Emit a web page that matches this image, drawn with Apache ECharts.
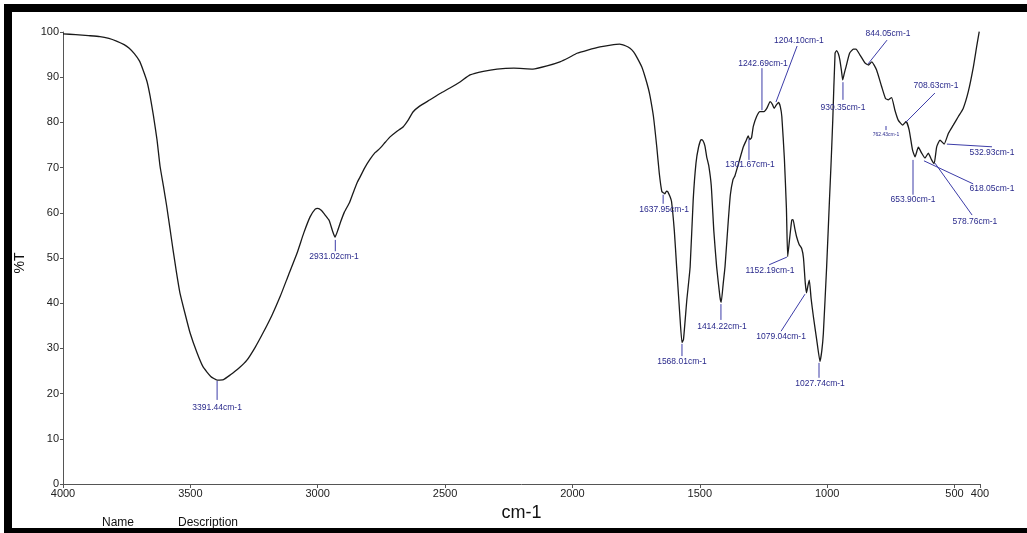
<!DOCTYPE html>
<html><head><meta charset="utf-8">
<script src="https://cdn.jsdelivr.net/npm/echarts@6/dist/echarts.min.js"></script>
<style>html,body{margin:0;padding:0;background:#fff}#c{width:1027px;height:533px}</style>
</head><body><div id="c"></div>
<script>
// ---- spectrum data (wavenumber cm-1, %T) ----
const wavenumbers = [
4000,3950,3900,3855,3820,3790,3760,3740,3720,3700,3685,3670,3658,3645,3631,3619,3606,3593,3580,3568,
3555,3541,3520,3501,3475,3450,3420,3395,3370,3344,3310,3278,3245,3215,3180,3148,3115,3081,3055,3030,
3010,3000,2985,2971,2955,2942,2932,2922,2910,2895,2875,2861,2845,2834,2815,2795,2775,2755,2735,2716,
2690,2665,2645,2626,2600,2559,2520,2481,2440,2402,2350,2296,2230,2155,2100,2049,2015,1982,1940,1892,
1850,1815,1790,1774,1760,1748,1728,1715,1702,1695,1682,1669,1659,1649,1642,1637,1631,1626,1617,1611,
1600,1591,1578,1570,1564,1551,1538,1526,1515,1505,1495,1488,1480,1473,1465,1455,1445,1434,1421,1416,
1408,1401,1388,1380,1370,1362,1345,1329,1318,1310,1304,1297,1290,1277,1264,1248,1237,1224,1215,1208,
1200,1191,1184,1178,1168,1160,1155,1147,1139,1134,1127,1120,1110,1100,1093,1086,1081,1075,1070,1063,
1054,1041,1028,1021,1015,1002,991,985,978,969,963,956,950,944,939,933,926,912,897,887,
871,851,838,825,806,786,771,760,747,734,721,704,690,678,665,655,642,629,616,603,
590,580,570,557,541,524,505,485,466,446,426,413,403
];
const transmittance = [
99.6,99.4,99.2,99.0,98.6,98.0,97.2,96.4,95.2,93.6,91.5,89.0,85.8,81.5,76.2,70.3,66.0,61.5,56.5,51.8,
47.0,42.3,37.5,33.4,29.2,25.9,23.8,23.0,23.1,24.1,25.6,27.4,30.3,33.4,37.3,41.4,46.2,51.1,55.5,59.1,
60.8,61.0,60.5,59.5,58.3,56.0,54.6,56.0,58.0,60.2,62.3,64.4,66.7,67.9,70.0,71.8,73.3,74.3,75.6,76.8,
78.0,79.0,80.5,82.3,83.6,85.0,86.4,87.6,89.0,90.5,91.3,91.8,92.0,91.8,92.5,93.4,94.3,95.3,96.0,96.7,
97.1,97.3,96.9,96.4,95.6,94.5,92.3,90.1,87.5,85.7,81.3,74.6,68.7,64.7,64.4,64.2,64.8,64.7,63.6,62.5,
56.0,48.1,37.0,31.3,32.0,40.7,48.0,62.8,71.0,74.5,76.2,76.0,74.8,72.4,70.5,66.0,56.0,48.1,41.4,40.2,
44.4,48.1,58.4,64.0,67.3,68.2,71.5,74.6,76.0,77.0,76.2,76.6,79.1,81.3,82.4,82.4,83.1,84.6,84.0,83.1,
83.8,84.4,83.5,81.3,72.0,61.0,50.3,54.5,58.4,58.5,56.5,54.7,53.0,52.1,50.0,44.5,42.3,44.0,45.1,41.0,
37.0,31.9,27.1,29.5,33.3,48.1,62.8,70.5,80.5,95.3,95.9,95.2,93.8,91.5,89.4,90.8,92.3,95.3,96.2,96.2,
94.9,93.1,92.7,93.4,91.6,87.9,85.3,85.0,85.5,82.7,80.5,79.4,80.2,78.3,73.9,72.4,74.5,73.2,72.1,73.2,
71.7,70.9,74.6,76.1,75.2,77.6,79.4,81.3,83.1,86.8,92.3,96.8,100.1
];

// ---- axis ticks ----
const xTickValues = [4000,3500,3000,2500,2000,1500,1000,500,400];
const yTickValues = [0,10,20,30,40,50,60,70,80,90,100];

// ---- peak annotations (data units) ----
const peakLabels   = ['3391.44cm-1','2931.02cm-1','1637.95cm-1','1568.01cm-1','1414.22cm-1','1301.67cm-1','1242.69cm-1','1204.10cm-1','1152.19cm-1','1079.04cm-1','1027.74cm-1','930.35cm-1','844.05cm-1','762.43cm-1','708.63cm-1','653.90cm-1','618.05cm-1','578.76cm-1','532.93cm-1'];
const leaderFromWn = [3395,2931,1644,1570,1417,1307,1256,1201,1158,1087,1032,938,840,769,690,663,620,577,530];
const leaderFromT  = [22.8,54.0,64.0,31.0,39.8,76.3,82.7,84.5,50.2,42.0,26.8,88.9,92.9,79.2,80.1,71.7,71.5,71.0,75.2];
const leaderToWn   = [3395,2931,1644,1570,1417,1307,1256,1118,1228,1181,1032,938,765,769,577,663,427,431,353];
const leaderToT    = [18.6,51.5,62.0,28.3,36.3,71.7,92.0,96.9,48.5,33.8,23.5,85.0,98.2,78.3,86.5,64.0,66.4,59.5,74.6];
const labelWn      = [3395,2936,1640,1570,1413,1303,1252,1111,1224,1181,1028,938,761,769,573,663,353,420,353];
const labelT       = [17.0,50.2,60.8,27.0,34.7,70.6,93.1,98.0,47.1,32.5,22.1,83.2,99.6,77.4,88.1,62.8,65.3,58.0,73.2];

const FONT = '"Liberation Sans", Arial, sans-serif';
const chart = echarts.init(document.getElementById('c'), null, {renderer: 'canvas'});

const spectrum = wavenumbers.map((w, i) => [w, transmittance[i]]);
const annData = peakLabels.map((t, i) => [leaderFromWn[i], leaderFromT[i], leaderToWn[i], leaderToT[i], labelWn[i], labelT[i], i]);

chart.setOption({
  animation: false,
  backgroundColor: '#fff',
  grid: {left: 63, right: 47, top: 32, bottom: 49},
  xAxis: {
    type: 'value', inverse: true, min: 400, max: 4000,
    name: 'cm-1', nameLocation: 'middle', nameGap: 18,
    nameTextStyle: {fontFamily: FONT, fontSize: 18, color: '#111'},
    axisLine: {show: true, lineStyle: {color: '#555', width: 1}},
    axisTick: {show: true, length: 4, lineStyle: {color: '#555'}, customValues: xTickValues},
    axisLabel: {fontFamily: FONT, fontSize: 11, color: '#222', margin: 4, customValues: xTickValues,
      formatter: v => String(v)},
    splitLine: {show: false}
  },
  yAxis: {
    type: 'value', min: 0, max: 100, interval: 10,
    name: '%T', nameLocation: 'middle', nameGap: 36, nameRotate: 90,
    nameTextStyle: {fontFamily: FONT, fontSize: 14, color: '#111', padding: [0, 10, 0, 0]},
    axisLine: {show: true, lineStyle: {color: '#555', width: 1}},
    axisTick: {show: true, length: 3, lineStyle: {color: '#555'}},
    axisLabel: {fontFamily: FONT, fontSize: 11, color: '#222', margin: 4, formatter: v => String(v)},
    splitLine: {show: false}
  },
  graphic: [
    {type: 'text', x: 118, y: 523, z: 10, style: {text: 'Name', font: '12px ' + FONT, fill: '#111', align: 'center', verticalAlign: 'middle'}},
    {type: 'text', x: 208, y: 523, z: 10, style: {text: 'Description', font: '12px ' + FONT, fill: '#111', align: 'center', verticalAlign: 'middle'}},
    {type: 'rect', z: 20, shape: {x: 4, y: 4, width: 1023, height: 8}, style: {fill: '#000'}},
    {type: 'rect', z: 20, shape: {x: 4, y: 4, width: 8, height: 529}, style: {fill: '#000'}},
    {type: 'rect', z: 20, shape: {x: 4, y: 528, width: 1023, height: 5}, style: {fill: '#000'}}
  ],
  series: [
    {
      type: 'line', data: spectrum, showSymbol: false, smooth: 0.15,
      lineStyle: {color: '#1a1a1a', width: 1.3}, silent: true, clip: false
    },
    {
      type: 'custom', data: annData, silent: true, clip: false, z: 5,
      renderItem: function (params, api) {
        const i = api.value(6);
        const p1 = api.coord([api.value(0), api.value(1)]);
        const p2 = api.coord([api.value(2), api.value(3)]);
        const p3 = api.coord([api.value(4), api.value(5)]);
        const tiny = peakLabels[i] === '762.43cm-1';
        return {type: 'group', children: [
          {type: 'line', shape: {x1: p1[0], y1: p1[1], x2: p2[0], y2: p2[1]}, style: {stroke: '#3c3ca8', lineWidth: 1}},
          {type: 'text', x: p3[0], y: p3[1], style: {text: peakLabels[i], fill: '#2a2a8c', font: (tiny ? '5px ' : '8.5px ') + FONT, align: 'center', verticalAlign: 'middle'}}
        ]};
      }
    }
  ]
});
</script></body></html>
